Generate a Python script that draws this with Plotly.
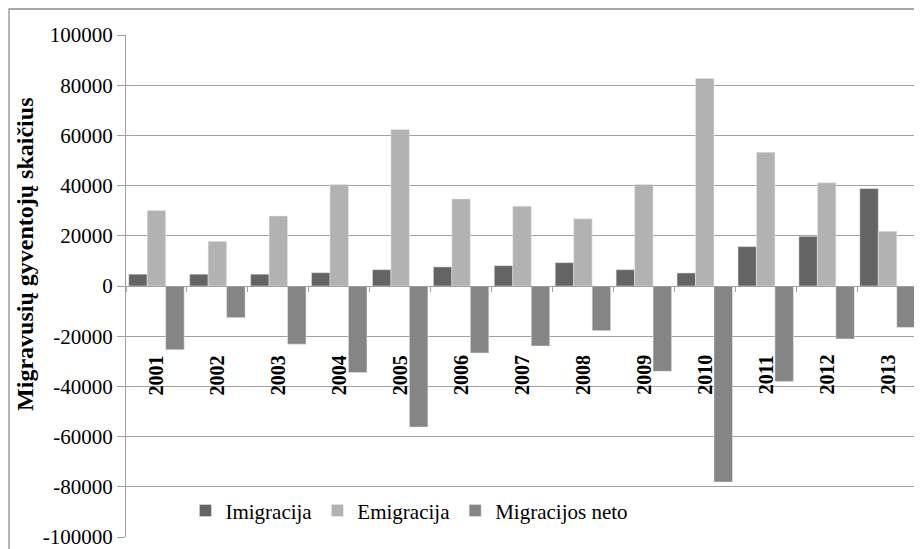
import plotly.graph_objects as go

years = ["2001", "2002", "2003", "2004", "2005", "2006", "2007",
         "2008", "2009", "2010", "2011", "2012", "2013"]
imigracija = [4700, 4700, 4700, 5300, 6500, 7600, 8100, 9300, 6500, 5200, 15700, 19800, 38800]
emigracija = [30100, 17800, 27900, 40400, 62400, 34700, 31800, 26800, 40400, 82700, 53300, 41100, 21800]
migracijos_neto = [-25400, -12600, -23200, -34500, -56200, -26700, -23900, -17800, -34000, -78100, -38000, -21100, -16500]

y_ticks = [100000, 80000, 60000, 40000, 20000, 0, -20000, -40000, -60000, -80000, -100000]
y_tick_labels = ["100000", "80000", "60000", "40000", "20000", "0",
                 "-20000", "-40000", "-60000", "-80000", "-100000"]
y_title = "Migravusių gyventojų skaičius"

FONT = "Liberation Serif, Times New Roman, serif"
GRID = "#a0a0a0"

fig = go.Figure()
fig.add_trace(go.Bar(name="Imigracija", x=years, y=imigracija, marker_color="#646464"))
fig.add_trace(go.Bar(name="Emigracija", x=years, y=emigracija, marker_color="#b2b2b2"))
fig.add_trace(go.Bar(name="Migracijos neto", x=years, y=migracijos_neto, marker_color="#858585"))

for i, yr in enumerate(years):
    fig.add_annotation(x=i, y=0, xref="x", yref="y", text="<b>%s</b>" % yr,
                       textangle=-90, showarrow=False, yanchor="top", yshift=-67,
                       font=dict(family=FONT, size=20, color="black"))

# y-axis title placed as annotation (it sits above the axis centre in the reference)
fig.add_annotation(x=-0.1275, y=0.562, xref="paper", yref="paper", text="<b>%s</b>" % y_title,
                   textangle=-90, showarrow=False, xanchor="center", yanchor="middle",
                   font=dict(family=FONT, size=24, color="black"))

# page body has an 8px offset, so the figure is 8px smaller and margins shifted
fig.update_layout(
    width=914, height=541,
    margin=dict(l=118, r=4, t=27, b=12),
    paper_bgcolor="white", plot_bgcolor="white",
    barmode="group", bargap=0.09, bargroupgap=0,
    font=dict(family=FONT, size=21, color="black"),
    showlegend=True,
    legend=dict(orientation="h", x=0.075, y=0.052, xanchor="left", yanchor="middle",
                bgcolor="rgba(0,0,0,0)", font=dict(family=FONT, size=21),
                itemwidth=30, traceorder="normal"),
    xaxis=dict(type="category", range=[-0.5, len(years) - 0.5],
               anchor="free", position=0.5, showticklabels=False,
               showline=True, linecolor=GRID, linewidth=1.3,
               ticks="outside", tickson="boundaries", ticklen=5, tickcolor=GRID,
               showgrid=False, zeroline=False),
    yaxis=dict(range=[-100000, 100000], tickvals=y_ticks, ticktext=y_tick_labels,
               showline=True, linecolor=GRID, linewidth=1.3,
               ticks="outside", ticklen=8, tickcolor=GRID,
               showgrid=True, gridcolor=GRID, gridwidth=1.3,
               zeroline=False, automargin=False, ticklabeloverflow="allow",
               tickfont=dict(family=FONT, size=21)),
)

fig.add_shape(type="rect", xref="paper", yref="paper",
              x0=-0.1477, x1=1.02, y0=-0.05, y1=1.0518,
              line=dict(color="#8c8c8c", width=1.3), fillcolor="rgba(0,0,0,0)", layer="below")

fig.write_html("out.html")
